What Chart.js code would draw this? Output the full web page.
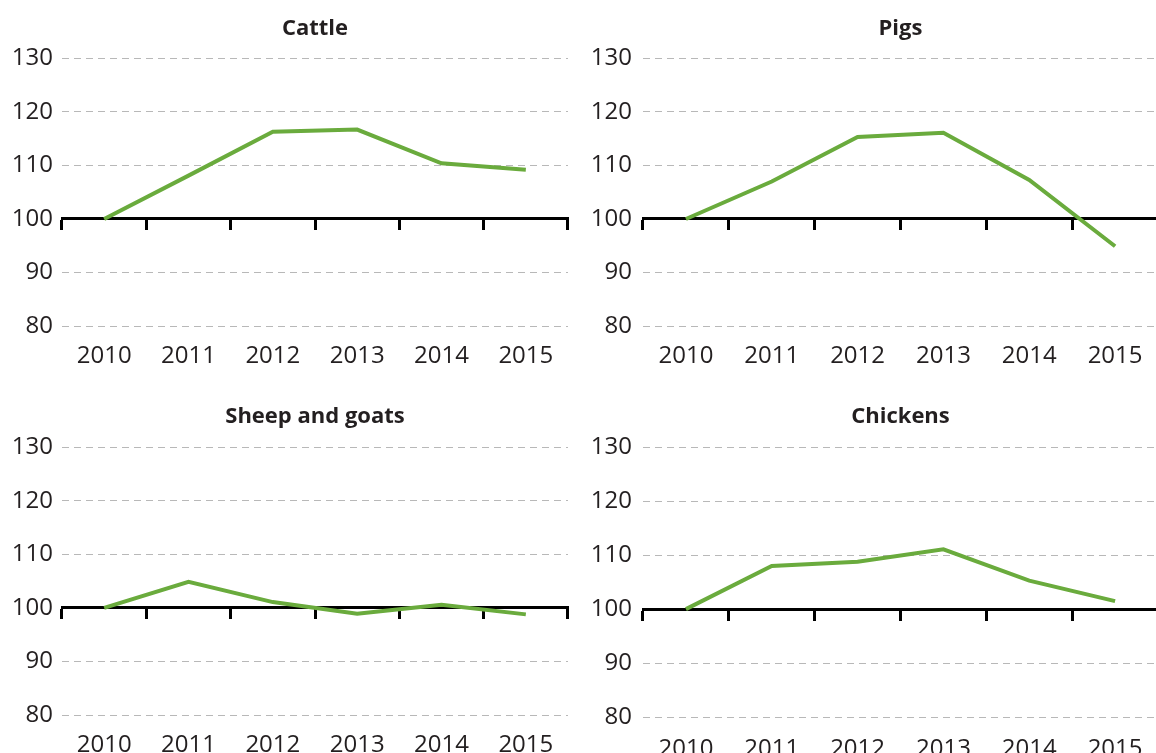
<!DOCTYPE html>
<html>
<head>
<meta charset="utf-8">
<script src="https://cdn.jsdelivr.net/npm/chart.js@4.4.1/dist/chart.umd.min.js"></script>
<style>
  html, body { margin: 0; padding: 0; background: #fff; overflow: hidden; }
  body { width: 1156px; height: 753px; position: relative; }
  canvas { position: absolute; }
</style>
</head>
<body>
<canvas id="cattleChart" width="580" height="380" style="left:0;top:0"></canvas>
<canvas id="pigsChart" width="580" height="380" style="left:580px;top:0"></canvas>
<canvas id="sheepChart" width="580" height="363" style="left:0;top:390px"></canvas>
<canvas id="chickenChart" width="580" height="363" style="left:580px;top:390px"></canvas>
<script>
// index values, 2010 = 100
var years = ['2010', '2011', '2012', '2013', '2014', '2015'];
var cattle = [100, 108.1, 116.3, 116.7, 110.4, 109.2];
var pigs = [100, 107.0, 115.3, 116.1, 107.3, 94.9];
var sheepGoats = [100, 104.9, 101.1, 98.9, 100.6, 98.8];
var chickens = [100, 108.0, 108.8, 111.1, 105.3, 101.5];
var yTicks = [80, 90, 100, 110, 120, 130];

var green = '#6aab3d';
var textColor = '#231f20';
var fontFamily = "'Open Sans', 'Noto Sans', sans-serif";

function makePanel(id, title, values, g) {
    var ctx = document.getElementById(id).getContext('2d');
    return new Chart(ctx, {
        type: 'line',
        data: {
            labels: years,
            datasets: [{
                label: title,
                data: values,
                borderColor: green,
                borderWidth: 4,
                pointRadius: 0,
                tension: 0,
                fill: false
            }]
        },
        options: {
            responsive: false,
            animation: false,
            devicePixelRatio: 1,
            layout: {
                padding: { left: 0, right: g.padRight, top: 0, bottom: g.padBottom }
            },
            plugins: {
                legend: { display: false },
                tooltip: { enabled: false },
                title: {
                    display: true,
                    text: title,
                    fullSize: false,
                    color: textColor,
                    font: { family: fontFamily, size: 22, weight: 'bold' },
                    padding: { top: g.titleTop, bottom: g.titleBottom }
                }
            },
            scales: {
                x: {
                    type: 'category',
                    position: 'bottom',
                    offset: true,
                    grid: { display: false },
                    border: { display: false },
                    ticks: {
                        color: textColor,
                        padding: g.labelPad,
                        maxRotation: 0,
                        font: { family: fontFamily, size: 24 }
                    },
                    afterFit: function (scale) { scale.height = g.xHeight; }
                },
                // black baseline at 100 with tick marks between years
                xAxisLine: {
                    axis: 'x',
                    type: 'category',
                    labels: years,
                    position: { y: 100 },
                    offset: true,
                    grid: {
                        offset: true,
                        drawOnChartArea: false,
                        drawTicks: true,
                        tickLength: 10,
                        tickColor: '#000',
                        tickWidth: 3
                    },
                    border: { display: true, color: '#000', width: 3 },
                    ticks: { display: false }
                },
                y: {
                    min: 80,
                    max: 130,
                    afterBuildTicks: function (scale) {
                        scale.ticks = yTicks.map(function (v) { return { value: v }; });
                    },
                    grid: {
                        drawTicks: false,
                        lineWidth: 1,
                        color: function (c) {
                            return c.tick && c.tick.value === 100 ? 'rgba(0,0,0,0)' : '#b8b8b8';
                        }
                    },
                    border: { display: false, dash: [7, 5] },
                    ticks: {
                        color: textColor,
                        padding: g.yPad,
                        font: { family: fontFamily, size: 24 }
                    },
                    afterFit: function (scale) { scale.width = g.yWidth; }
                }
            }
        }
    });
}

makePanel('cattleChart', 'Cattle', cattle,
    { padRight: 12, padBottom: 14, titleTop: 16, titleBottom: 16, xHeight: 40, labelPad: 8, yWidth: 62, yPad: 9 });
makePanel('pigsChart', 'Pigs', pigs,
    { padRight: 2, padBottom: 14, titleTop: 16, titleBottom: 16, xHeight: 40, labelPad: 8, yWidth: 63, yPad: 11 });
makePanel('sheepChart', 'Sheep and goats', sheepGoats,
    { padRight: 12, padBottom: 0, titleTop: 14, titleBottom: 17, xHeight: 38, labelPad: 8, yWidth: 62, yPad: 9 });
makePanel('chickenChart', 'Chickens', chickens,
    { padRight: 2, padBottom: 0, titleTop: 14, titleBottom: 17, xHeight: 36, labelPad: 10, yWidth: 63, yPad: 11 });
</script>
</body>
</html>
